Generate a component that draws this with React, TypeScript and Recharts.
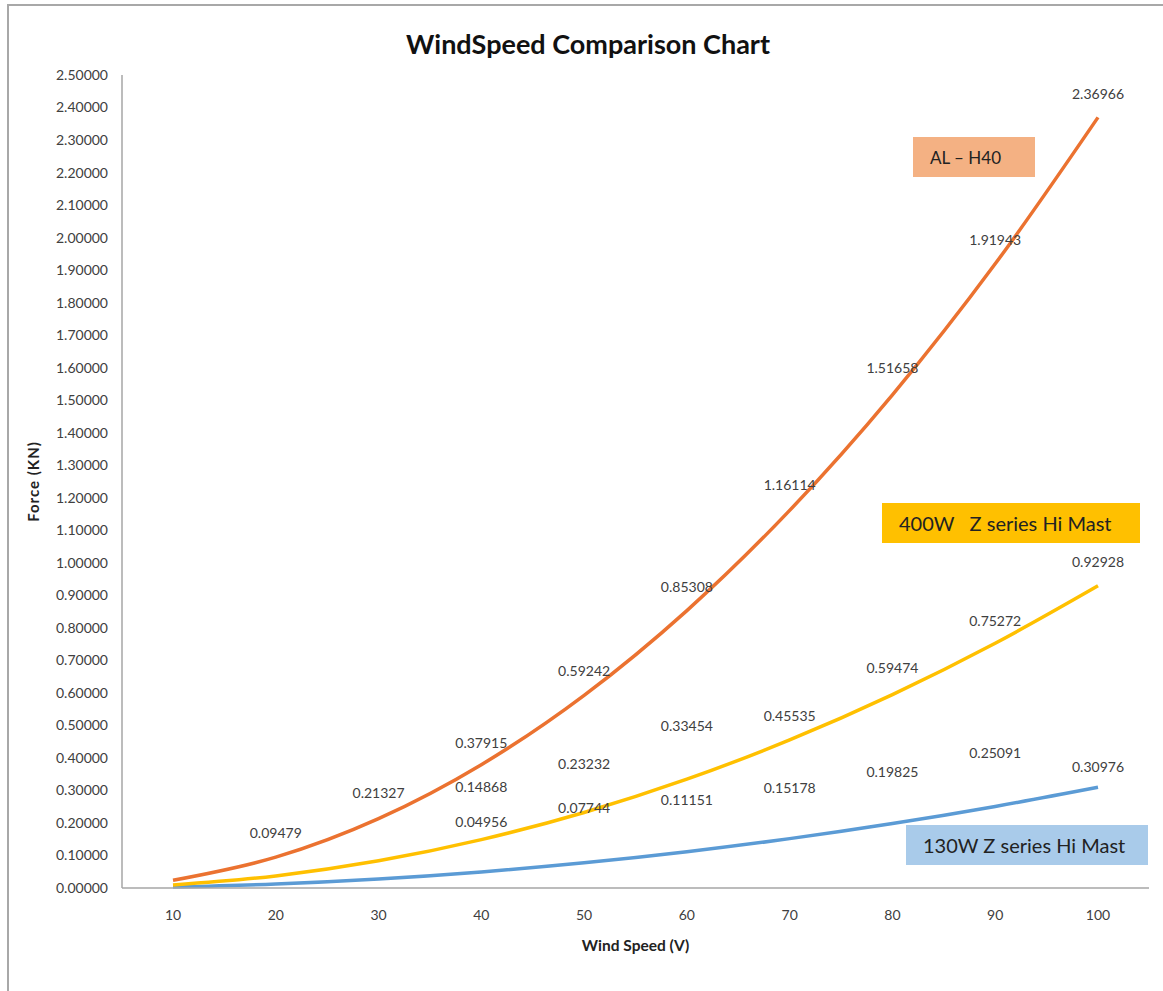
import React from 'react'
import { LineChart, Line, XAxis, YAxis, LabelList, Label } from 'recharts'

const speeds = [10, 20, 30, 40, 50, 60, 70, 80, 90, 100]

const alH40 = [0.0237, 0.09479, 0.21327, 0.37915, 0.59242, 0.85308, 1.16114, 1.51658, 1.91943, 2.36966]
const z400 = [0.0093, 0.0372, 0.0836, 0.14868, 0.23232, 0.33454, 0.45535, 0.59474, 0.75272, 0.92928]
const z130 = [0.0031, 0.0124, 0.0279, 0.04956, 0.07744, 0.11151, 0.15178, 0.19825, 0.25091, 0.30976]

const forceTicks = [
  0, 0.1, 0.2, 0.3, 0.4, 0.5, 0.6, 0.7, 0.8, 0.9, 1.0, 1.1, 1.2, 1.3, 1.4, 1.5,
  1.6, 1.7, 1.8, 1.9, 2.0, 2.1, 2.2, 2.3, 2.4, 2.5,
]

const data = speeds.map((s, i) => ({
  speed: s,
  al: alH40[i],
  z400: z400[i],
  z130: z130[i],
}))

// how far each value label sits above its point (null = no label)
const alLift = [null, 25, 26, 22, 25, 24, 26, 27, 24, 24]
const z400Lift = [null, null, null, 53, 49, 54, 24, 27, 23, 24]
const z130Lift = [null, null, null, 50, 55, 52, 51, 52, 54, 21]

const FONT = 'Lato, "Noto Sans", sans-serif'
const TEXT = '#404040'

const makeLabel = (lifts: (number | null)[]) => (props: any) => {
  const { x, y, value, index } = props
  const lift = lifts[index]
  if (lift == null) return null
  return (
    <text
      x={x}
      y={y - lift}
      textAnchor="middle"
      dominantBaseline="central"
      fontSize={14}
      fontFamily={FONT}
      fill={TEXT}
    >
      {Number(value).toFixed(5)}
    </text>
  )
}

const boxStyle = (left: number, top: number, width: number, bg: string, size: number) =>
  ({
    position: 'absolute',
    left,
    top,
    width,
    height: 40,
    background: bg,
    fontFamily: FONT,
    fontSize: size,
    color: '#222',
    display: 'flex',
    alignItems: 'center',
    paddingLeft: 17,
    boxSizing: 'border-box',
    whiteSpace: 'nowrap',
  }) as React.CSSProperties

export default function App() {
  return (
    <div style={{ position: 'absolute', left: 0, top: 0, width: 1163, height: 991, background: '#fff' }}>
      <div
        style={{
          position: 'absolute',
          left: 7,
          top: 4,
          width: 1160,
          height: 990,
          borderLeft: '2px solid #a8a8a8',
          borderTop: '2px solid #a8a8a8',
        }}
      />
      <div
        style={{
          position: 'absolute',
          left: 0,
          width: 1176,
          top: 27,
          textAlign: 'center',
          fontFamily: FONT,
          fontWeight: 'bold',
          fontSize: 27,
          color: '#111',
        }}
      >
        WindSpeed Comparison Chart
      </div>
      <LineChart
        width={1163}
        height={991}
        data={data}
        margin={{ top: 75, right: 14, left: 0, bottom: 0 }}
        style={{ position: 'absolute', left: 0, top: 0 }}
      >
        <XAxis
          dataKey="speed"
          padding={{ left: 51, right: 51 }}
          axisLine={{ stroke: '#a6a6a6', strokeWidth: 1.5 }}
          tickLine={false}
          tickSize={0}
          tickMargin={22}
          tick={{ fontSize: 14, fontFamily: FONT, fill: TEXT }}
          height={103}
        >
          <Label
            value="Wind Speed (V)"
            position="insideTop"
            offset={52}
            style={{ fontSize: 15.5, fontWeight: 'bold', fontFamily: FONT, fill: '#222' }}
          />
        </XAxis>
        <YAxis
          domain={[0, 2.5]}
          ticks={forceTicks}
          interval={0}
          width={122}
          axisLine={{ stroke: '#a6a6a6', strokeWidth: 1.5 }}
          tickLine={false}
          tickSize={0}
          tickMargin={14}
          tickFormatter={(v: number) => v.toFixed(5)}
          tick={{ fontSize: 14, fontFamily: FONT, fill: TEXT }}
        >
          <Label
            value="Force (KN)"
            angle={-90}
            position="insideLeft"
            offset={34}
            style={{
              fontSize: 15,
              letterSpacing: 1,
              fontWeight: 'bold',
              fontFamily: FONT,
              fill: '#222',
              textAnchor: 'middle',
            }}
          />
        </YAxis>
        <Line
          type="monotone"
          dataKey="z130"
          stroke="#5B9BD5"
          strokeWidth={3.5}
          dot={false}
          isAnimationActive={false}
        >
          <LabelList dataKey="z130" content={makeLabel(z130Lift)} />
        </Line>
        <Line
          type="monotone"
          dataKey="z400"
          stroke="#FFC000"
          strokeWidth={3.5}
          dot={false}
          isAnimationActive={false}
        >
          <LabelList dataKey="z400" content={makeLabel(z400Lift)} />
        </Line>
        <Line
          type="monotone"
          dataKey="al"
          stroke="#EB7230"
          strokeWidth={3.5}
          dot={false}
          isAnimationActive={false}
        >
          <LabelList dataKey="al" content={makeLabel(alLift)} />
        </Line>
      </LineChart>
      <div style={boxStyle(913, 137, 122, '#F4B183', 17)}>AL – H40</div>
      <div style={boxStyle(882, 503, 258, '#FFC000', 20)}>400W&nbsp;&nbsp; Z series Hi Mast</div>
      <div style={boxStyle(906, 825, 242, '#A9CBEA', 20)}>130W Z series Hi Mast</div>
    </div>
  )
}
